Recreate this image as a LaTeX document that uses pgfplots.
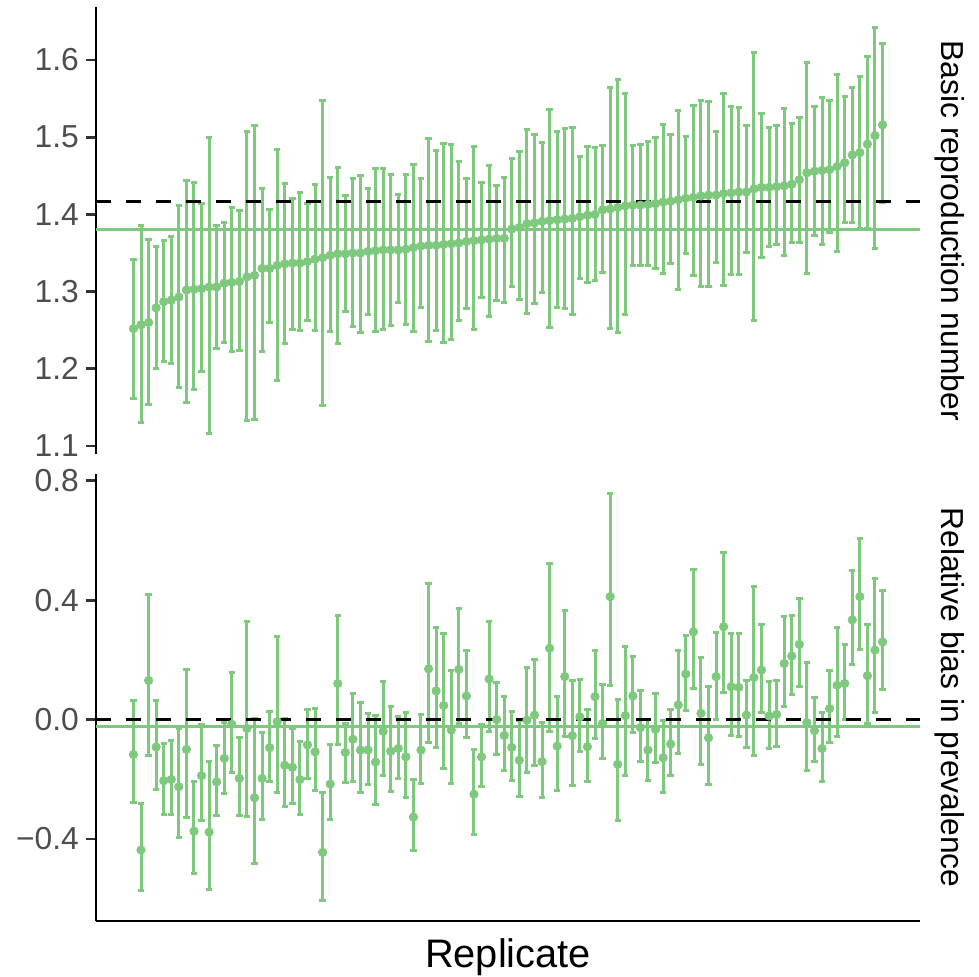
\documentclass[border=0pt]{standalone}
\usepackage{fontspec}
\setmainfont{Liberation Sans}
\usepackage{pgfplots}
\pgfplotsset{compat=1.18}
\usepackage{pgfplotstable}
\definecolor{accentgreen}{HTML}{7FC97F}
\definecolor{gray30}{HTML}{4D4D4D}
\definecolor{gray20}{HTML}{333333}

% replicate, estimate, lower, upper -- basic reproduction number
\pgfplotstableread{
x y lo hi
1 1.252 1.161 1.341
2 1.257 1.131 1.386
3 1.260 1.154 1.368
4 1.279 1.200 1.359
5 1.287 1.210 1.366
6 1.289 1.207 1.372
7 1.293 1.176 1.411
8 1.302 1.156 1.444
9 1.303 1.173 1.441
10 1.304 1.196 1.414
11 1.306 1.116 1.499
12 1.306 1.226 1.385
13 1.311 1.234 1.389
14 1.312 1.223 1.409
15 1.313 1.224 1.405
16 1.319 1.133 1.507
17 1.321 1.134 1.515
18 1.330 1.223 1.434
19 1.330 1.260 1.406
20 1.334 1.185 1.484
21 1.336 1.233 1.440
22 1.337 1.251 1.420
23 1.337 1.250 1.429
24 1.339 1.263 1.414
25 1.342 1.250 1.439
26 1.344 1.152 1.548
27 1.347 1.249 1.448
28 1.349 1.233 1.461
29 1.349 1.274 1.425
30 1.350 1.255 1.446
31 1.350 1.247 1.451
32 1.352 1.270 1.434
33 1.353 1.249 1.459
34 1.354 1.251 1.459
35 1.354 1.256 1.452
36 1.354 1.286 1.426
37 1.355 1.258 1.452
38 1.357 1.248 1.465
39 1.359 1.280 1.446
40 1.360 1.235 1.498
41 1.360 1.250 1.483
42 1.361 1.234 1.492
43 1.362 1.238 1.491
44 1.363 1.262 1.469
45 1.365 1.278 1.446
46 1.366 1.251 1.488
47 1.367 1.293 1.441
48 1.368 1.268 1.463
49 1.369 1.289 1.437
50 1.369 1.286 1.448
51 1.381 1.306 1.472
52 1.383 1.290 1.481
53 1.388 1.272 1.510
54 1.389 1.284 1.503
55 1.391 1.299 1.493
56 1.392 1.253 1.536
57 1.393 1.280 1.507
58 1.394 1.278 1.511
59 1.395 1.271 1.512
60 1.397 1.317 1.475
61 1.399 1.312 1.488
62 1.400 1.315 1.487
63 1.406 1.325 1.489
64 1.407 1.252 1.565
65 1.409 1.247 1.575
66 1.411 1.271 1.556
67 1.412 1.334 1.489
68 1.412 1.334 1.491
69 1.413 1.334 1.495
70 1.414 1.330 1.500
71 1.416 1.323 1.516
72 1.417 1.337 1.504
73 1.419 1.303 1.534
74 1.421 1.350 1.501
75 1.422 1.321 1.541
76 1.424 1.307 1.548
77 1.425 1.306 1.546
78 1.425 1.338 1.508
79 1.427 1.308 1.556
80 1.428 1.322 1.540
81 1.429 1.322 1.538
82 1.429 1.351 1.515
83 1.433 1.263 1.610
84 1.435 1.344 1.531
85 1.435 1.359 1.513
86 1.436 1.361 1.515
87 1.437 1.347 1.537
88 1.439 1.363 1.518
89 1.445 1.363 1.525
90 1.454 1.323 1.597
91 1.456 1.373 1.540
92 1.457 1.361 1.552
93 1.458 1.376 1.547
94 1.462 1.352 1.581
95 1.467 1.389 1.553
96 1.477 1.389 1.565
97 1.480 1.382 1.578
98 1.491 1.382 1.604
99 1.502 1.356 1.642
100 1.516 1.416 1.621
}\rzero

% relative bias in prevalence
\pgfplotstableread{
x y lo hi
1 -0.117 -0.279 0.063
2 -0.437 -0.574 -0.281
3 0.131 -0.119 0.418
4 -0.092 -0.234 0.064
5 -0.205 -0.319 -0.080
6 -0.201 -0.319 -0.069
7 -0.225 -0.395 -0.030
8 -0.100 -0.327 0.168
9 -0.374 -0.516 -0.207
10 -0.188 -0.338 -0.018
11 -0.377 -0.570 -0.141
12 -0.209 -0.322 -0.087
13 -0.130 -0.247 -0.011
14 -0.016 -0.177 0.157
15 -0.197 -0.322 -0.060
16 -0.030 -0.326 0.330
17 -0.262 -0.482 0.004
18 -0.197 -0.336 -0.042
19 -0.094 -0.208 0.027
20 -0.007 -0.246 0.277
21 -0.153 -0.292 0.004
22 -0.160 -0.280 -0.030
23 -0.201 -0.317 -0.074
24 -0.085 -0.197 0.033
25 -0.108 -0.239 0.036
26 -0.445 -0.607 -0.244
27 -0.216 -0.336 -0.083
28 0.121 -0.085 0.350
29 -0.110 -0.212 -0.013
30 -0.066 -0.208 0.088
31 -0.102 -0.245 0.056
32 -0.102 -0.217 0.021
33 -0.142 -0.285 0.015
34 -0.039 -0.189 0.129
35 -0.106 -0.242 0.043
36 -0.097 -0.197 0.012
37 -0.125 -0.262 0.025
38 -0.327 -0.439 -0.201
39 -0.102 -0.214 0.018
40 0.170 -0.078 0.455
41 0.096 -0.093 0.310
42 0.047 -0.164 0.287
43 -0.035 -0.215 0.164
44 0.168 -0.013 0.373
45 0.079 -0.061 0.231
46 -0.250 -0.385 -0.100
47 -0.125 -0.225 -0.015
48 0.136 -0.041 0.328
49 0.000 -0.117 0.123
50 -0.053 -0.172 0.077
51 -0.093 -0.205 0.028
52 -0.136 -0.259 -0.002
53 -0.002 -0.178 0.174
54 0.015 -0.153 0.202
55 -0.141 -0.262 -0.009
56 0.239 -0.040 0.522
57 -0.089 -0.236 0.077
58 0.144 -0.058 0.367
59 -0.054 -0.220 0.132
60 0.009 -0.106 0.135
61 -0.091 -0.208 0.035
62 0.077 -0.063 0.231
63 -0.013 -0.130 0.116
64 0.412 0.115 0.756
65 -0.150 -0.339 0.068
66 0.013 -0.189 0.244
67 0.079 -0.044 0.211
68 -0.027 -0.141 0.097
69 -0.102 -0.203 0.000
70 -0.033 -0.145 0.088
71 -0.128 -0.245 -0.002
72 -0.082 -0.188 0.034
73 0.049 -0.113 0.230
74 0.153 0.032 0.283
75 0.294 0.104 0.503
76 0.021 -0.149 0.208
77 -0.061 -0.216 0.112
78 0.144 0.000 0.292
79 0.311 0.091 0.559
80 0.110 -0.052 0.289
81 0.108 -0.058 0.289
82 0.015 -0.093 0.132
83 0.141 -0.121 0.445
84 0.166 0.023 0.320
85 0.012 -0.097 0.126
86 0.017 -0.091 0.130
87 0.188 0.045 0.345
88 0.213 0.084 0.349
89 0.252 0.112 0.405
90 -0.010 -0.172 0.192
91 -0.037 -0.142 0.074
92 -0.097 -0.208 0.023
93 0.037 -0.078 0.163
94 0.115 -0.058 0.310
95 0.121 0.000 0.253
96 0.334 0.184 0.499
97 0.412 0.235 0.606
98 0.147 -0.013 0.320
99 0.233 0.023 0.473
100 0.260 0.101 0.434
}\bias

\pgfplotsset{
  repl/.style={
    scale only axis, width=412pt,
    xmin=-3.95, xmax=104.95, xtick=\empty,
    axis y line*=left,
    axis line style={-, line width=1.4pt, black},
    tick align=outside, major tick length=5pt,
    ytick style={line width=1.4pt, gray20},
    yticklabel style={font=\fontsize{15.9}{19}\selectfont, text=gray30},
  },
  bars/.style={accentgreen, only marks, mark=*, mark size=2.1pt,
    error bars/.cd, y dir=both, y explicit,
    error bar style={line width=1.5pt, accentgreen},
    error mark options={rotate=90, mark size=1.6pt, line width=1.5pt, accentgreen}},
  solidref/.style={accentgreen, line width=1.5pt},
  dashref/.style={black, line width=1.6pt, dash pattern=on 7.5pt off 7.5pt},
}

\begin{document}
\begin{tikzpicture}
\useasboundingbox (0,0) rectangle (489.5pt,488pt);

\begin{axis}[repl, at={(48pt,261pt)}, anchor=south west, height=223.25pt,
  axis x line=none,
  ymin=1.0897, ymax=1.668,
  ytick={1.1,1.2,1.3,1.4,1.5,1.6},
  yticklabels={1.1,1.2,1.3,1.4,1.5,1.6}]
\addplot[bars] table[x=x, y=y,
  y error plus expr=\thisrow{hi}-\thisrow{y},
  y error minus expr=\thisrow{y}-\thisrow{lo}] {\rzero};
\addplot[solidref] coordinates {(-3.95,1.380) (104.95,1.380)};
\addplot[dashref] coordinates {(-3.95,1.417) (104.95,1.417)};
\end{axis}

\begin{axis}[repl, at={(48pt,27.5pt)}, anchor=south west, height=223.65pt,
  axis x line*=bottom,
  ymin=-0.675, ymax=0.824,
  ytick={-0.4,0,0.4,0.8},
  yticklabels={−0.4,0.0,0.4,0.8}]
\addplot[bars] table[x=x, y=y,
  y error plus expr=\thisrow{hi}-\thisrow{y},
  y error minus expr=\thisrow{y}-\thisrow{lo}] {\bias};
\addplot[solidref] coordinates {(-3.95,-0.022) (104.95,-0.022)};
\addplot[dashref] coordinates {(-3.95,0) (104.95,0)};
\end{axis}

\node[rotate=-90, font=\fontsize{15.9}{19}\selectfont] at (475pt,372.6pt) {Basic reproduction number};
\node[rotate=-90, font=\fontsize{15.9}{19}\selectfont] at (475pt,139.3pt) {Relative bias in prevalence};
\node[font=\fontsize{19.9}{24}\selectfont] at (254pt,9.5pt) {Replicate};
\end{tikzpicture}
\end{document}
